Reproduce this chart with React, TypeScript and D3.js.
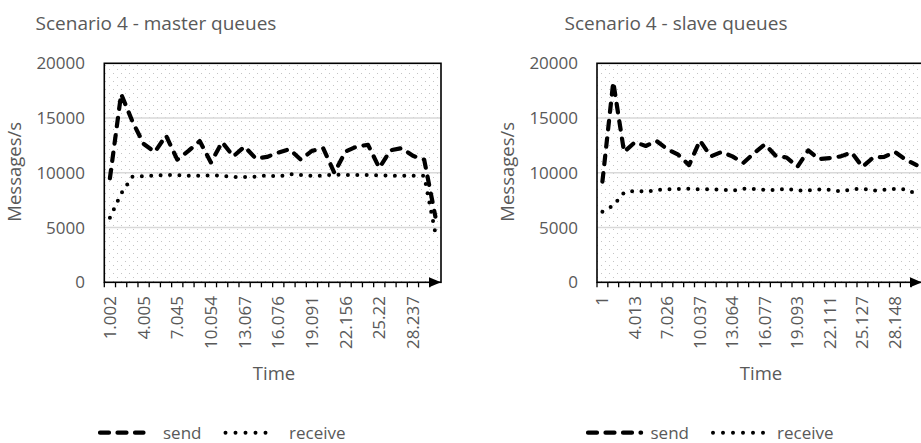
import { useEffect, useRef } from 'react';
import * as d3 from 'd3';

// time stamps (s) of each sample; only every 3rd one is labelled on the axis
const masterTimes = ['1.002', '2.003', '3.004', '4.005', '5.018', '6.031', '7.045', '8.048', '9.051', '10.054',
  '11.058', '12.063', '13.067', '14.07', '15.073', '16.076', '17.081', '18.086', '19.091', '20.113',
  '21.134', '22.156', '23.177', '24.198', '25.22', '26.226', '27.231', '28.237', '29.24', '30.243'];
const masterSend = [9500, 17200, 14700, 12650, 11900, 13400, 11200, 12000, 12900, 10950,
  12800, 11500, 12400, 11300, 11450, 11850, 12150, 11200, 12000, 12250,
  10000, 11950, 12400, 12550, 10450, 12050, 12250, 11550, 11200, 6000];
const masterReceive = [5900, 8100, 9650, 9700, 9750, 9800, 9800, 9720, 9720, 9770,
  9720, 9620, 9620, 9640, 9770, 9650, 9880, 9800, 9720, 9750,
  9850, 9800, 9800, 9800, 9780, 9720, 9720, 9720, 9720, 4500];

const slaveTimes = ['1', '2.004', '3.009', '4.013', '5.017', '6.022', '7.026', '8.029', '9.033', '10.037',
  '11.046', '12.055', '13.064', '14.068', '15.073', '16.077', '17.082', '18.088', '19.093', '20.099',
  '21.105', '22.111', '23.116', '24.122', '25.127', '26.134', '27.141', '28.148', '29.154', '30.16'];
const slaveSend = [9200, 18300, 11900, 12800, 12450, 12900, 12150, 11650, 10700, 12950,
  11500, 11900, 11500, 10900, 11800, 12600, 11550, 11400, 10550, 12050,
  11250, 11350, 11500, 11850, 10550, 11400, 11450, 11900, 11200, 10700];
const slaveReceive = [6450, 7000, 8200, 8370, 8270, 8430, 8490, 8520, 8550, 8490,
  8490, 8480, 8370, 8550, 8520, 8430, 8430, 8550, 8370, 8400,
  8480, 8450, 8300, 8490, 8570, 8370, 8450, 8520, 8500, 8050];

const yTicks = [0, 5000, 10000, 15000, 20000];
const gridValues = [5000, 10000, 15000];
const seriesNames = ['send', 'receive'];
const LABEL_STEP = 3;

const TEXT = '#595959';
const FONT = "'Open Sans', sans-serif";
const SEND_DASH = '8.5 9';
const RECV_DASH = '0 9.4';

interface ChartCfg {
  title: string;
  times: string[];
  send: number[];
  receive: number[];
  left: number;
  right: number;
  titleX: number;
  yTitleX: number;
  tickLabelX: number;
  timeX: number;
  legend: { sendFrom: number; sendLen: number; sendText: number; recvFrom: number; recvLen: number; recvText: number };
}

const charts: ChartCfg[] = [
  {
    title: 'Scenario 4 - master queues', times: masterTimes, send: masterSend, receive: masterReceive,
    left: 104.3, right: 441, titleX: 156, yTitleX: 21, tickLabelX: 85, timeX: 274,
    legend: { sendFrom: 100, sendLen: 43.5, sendText: 163, recvFrom: 225.5, recvLen: 50, recvText: 289 },
  },
  {
    title: 'Scenario 4 - slave queues', times: slaveTimes, send: slaveSend, receive: slaveReceive,
    left: 597, right: 922, titleX: 676, yTitleX: 514, tickLabelX: 578, timeX: 761,
    legend: { sendFrom: 588, sendLen: 53.1, sendText: 650.5, recvFrom: 713, recvLen: 60, recvText: 777 },
  },
];

const TOP = 63.3;
const BOTTOM = 282.3;

export default function App() {
  const svgRef = useRef<SVGSVGElement>(null);

  useEffect(() => {
    if (!svgRef.current) return;
    const svg = d3.select(svgRef.current);
    svg.selectAll('*').remove();

    // light dotted plot-area fill
    const pat = svg.append('defs').append('pattern')
      .attr('id', 'dots')
      .attr('patternUnits', 'userSpaceOnUse')
      .attr('width', 8)
      .attr('height', 8);
    pat.append('rect').attr('width', 8).attr('height', 8).attr('fill', '#fff');
    pat.append('rect').attr('x', 1).attr('y', 1).attr('width', 1).attr('height', 1).attr('fill', '#c4c4c4');
    pat.append('rect').attr('x', 5).attr('y', 5).attr('width', 1).attr('height', 1).attr('fill', '#c4c4c4');

    const yScale = d3.scaleLinear().domain([0, 20000]).range([BOTTOM, TOP]);

    charts.forEach(cfg => {
      const g = svg.append('g');
      const x = d3.scaleBand<string>().domain(cfg.times).range([cfg.left, cfg.right]).padding(0);
      const cx = (t: string) => (x(t) ?? 0) + x.bandwidth() / 2;

      // title
      g.append('text')
        .attr('x', cfg.titleX).attr('y', 30)
        .attr('text-anchor', 'middle')
        .style('font-family', FONT).style('font-size', '19px')
        .attr('fill', TEXT)
        .text(cfg.title);

      // plot background
      g.append('rect')
        .attr('x', cfg.left).attr('y', TOP)
        .attr('width', cfg.right - cfg.left).attr('height', BOTTOM - TOP)
        .attr('fill', 'url(#dots)');

      // gridlines
      g.selectAll('.grid').data(gridValues).enter().append('line')
        .attr('x1', cfg.left).attr('x2', cfg.right)
        .attr('y1', d => yScale(d)).attr('y2', d => yScale(d))
        .attr('stroke', '#d9d9d9').attr('stroke-width', 1.5);

      // y tick labels
      g.selectAll('.ylab').data(yTicks).enter().append('text')
        .attr('x', cfg.tickLabelX).attr('y', d => yScale(d))
        .attr('dy', '0.35em')
        .attr('text-anchor', 'end')
        .style('font-family', FONT).style('font-size', '17px')
        .attr('fill', TEXT)
        .text(d => String(d));

      // y axis title
      g.append('text')
        .attr('transform', `translate(${cfg.yTitleX},${(TOP + BOTTOM) / 2 - 1}) rotate(-90)`)
        .attr('text-anchor', 'middle')
        .style('font-family', FONT).style('font-size', '18.5px')
        .attr('fill', TEXT)
        .text('Messages/s');

      // x tick marks at category boundaries
      const bounds = cfg.times.map(t => x(t) ?? 0);
      g.selectAll('.xtick').data(bounds).enter().append('line')
        .attr('x1', d => d).attr('x2', d => d)
        .attr('y1', BOTTOM).attr('y2', BOTTOM + 5)
        .attr('stroke', '#000').attr('stroke-width', 1.3);

      // x tick labels, every 3rd category
      const shown = cfg.times.filter((_, i) => i % LABEL_STEP === 0);
      g.selectAll('.xlab').data(shown).enter().append('text')
        .attr('transform', d => `translate(${cx(d)},296) rotate(-90)`)
        .attr('dy', '0.35em')
        .attr('text-anchor', 'end')
        .style('font-family', FONT).style('font-size', '17px')
        .attr('fill', TEXT)
        .text(d => d);

      g.append('text')
        .attr('x', cfg.timeX).attr('y', 380)
        .attr('text-anchor', 'middle')
        .style('font-family', FONT).style('font-size', '18.5px')
        .attr('fill', TEXT)
        .text('Time');

      // plot border
      g.append('rect')
        .attr('x', cfg.left).attr('y', TOP)
        .attr('width', cfg.right - cfg.left).attr('height', BOTTOM - TOP)
        .attr('fill', 'none').attr('stroke', '#000').attr('stroke-width', 1.6);

      // arrow head on the x axis
      g.append('path')
        .attr('d', `M${cfg.right - 12},${BOTTOM - 5}L${cfg.right},${BOTTOM}L${cfg.right - 12},${BOTTOM + 5}Z`)
        .attr('fill', '#000');

      const line = d3.line<number>()
        .x((_, i) => cx(cfg.times[i]))
        .y(d => yScale(d));

      g.append('path')
        .datum(cfg.receive)
        .attr('d', line)
        .attr('fill', 'none')
        .attr('stroke', '#000')
        .attr('stroke-width', 4)
        .attr('stroke-linecap', 'round')
        .attr('stroke-dasharray', RECV_DASH);

      g.append('path')
        .datum(cfg.send)
        .attr('d', line)
        .attr('fill', 'none')
        .attr('stroke', '#000')
        .attr('stroke-width', 4.2)
        .attr('stroke-linecap', 'round')
        .attr('stroke-linejoin', 'round')
        .attr('stroke-dasharray', SEND_DASH);

      // legend
      const lg = cfg.legend;
      const ly = 432.7;
      g.append('line')
        .attr('x1', lg.sendFrom).attr('x2', lg.sendFrom + lg.sendLen)
        .attr('y1', ly).attr('y2', ly)
        .attr('stroke', '#000').attr('stroke-width', 4.2)
        .attr('stroke-linecap', 'round')
        .attr('stroke-dasharray', '9 8.5');
      g.append('line')
        .attr('x1', lg.recvFrom).attr('x2', lg.recvFrom + lg.recvLen)
        .attr('y1', ly).attr('y2', ly)
        .attr('stroke', '#000').attr('stroke-width', 4)
        .attr('stroke-linecap', 'round')
        .attr('stroke-dasharray', '0 10');
      [lg.sendText, lg.recvText].forEach((tx, i) => {
        g.append('text')
          .attr('x', tx).attr('y', 438.5)
          .style('font-family', FONT).style('font-size', '17px')
          .attr('fill', TEXT)
          .text(seriesNames[i]);
      });
    });
  }, []);

  return (
    <svg
      ref={svgRef}
      width={921}
      height={443}
      style={{ position: 'absolute', left: 0, top: 0, background: '#fff' }}
    />
  );
}
